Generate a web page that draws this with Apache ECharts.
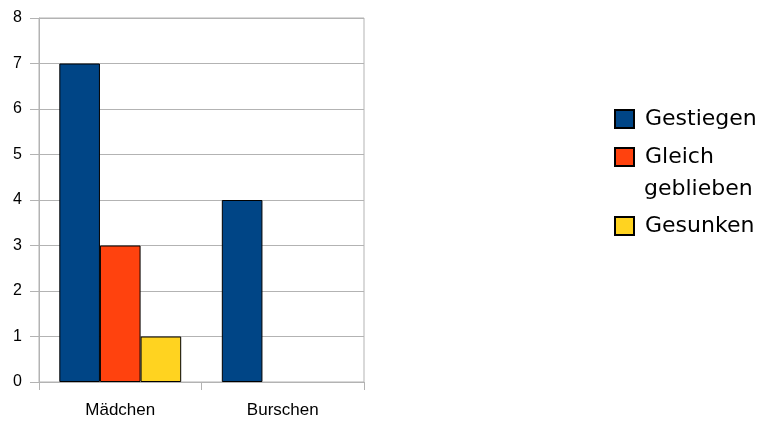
<!DOCTYPE html>
<html>
<head>
<meta charset="utf-8">
<script src="https://cdn.jsdelivr.net/npm/echarts@6/dist/echarts.min.js"></script>
<style>
  html, body { margin: 0; padding: 0; background: #fff; }
  #chart { width: 765px; height: 421px; }
</style>
</head>
<body>
<div id="chart"></div>
<script>
// daten
const categories = ['Mädchen', 'Burschen'];
const seriesNames = ['Gestiegen', 'Gleich geblieben', 'Gesunken'];
const gestiegen = [7, 4];
const gleichGeblieben = [3, 0];
const gesunken = [1, 0];
const yTicks = [0, 1, 2, 3, 4, 5, 6, 7, 8];

const colors = ['#004586', '#ff420e', '#ffd320'];
const gridColor = '#b3b3b3';
const axisFont = '"Liberation Sans", Arial, sans-serif';
const legendFont = '"DejaVu Sans", sans-serif';

// 0 heißt: kein balken im bild
function toBars(values) {
    return values.map(v => (v === 0 ? '-' : v));
}

var chart = echarts.init(document.getElementById('chart'), null, { renderer: 'canvas' });

var legendText = {
    fontFamily: legendFont,
    fontSize: 22,
    lineHeight: 22,
    color: '#000',
    padding: [0, 0, 0, 6]
};

var option = {
    animation: false,
    backgroundColor: '#fff',
    grid: {
        left: 39,
        right: 401,
        top: 18,
        bottom: 39,
        show: true,
        borderColor: gridColor,
        borderWidth: 1
    },
    // zwei legenden, weil "Gleich geblieben" umbricht
    legend: [{
        orient: 'vertical',
        left: 614,
        top: 108,
        padding: 0,
        itemWidth: 19,
        itemHeight: 18,
        itemGap: 16,
        icon: 'rect',
        data: [seriesNames[0], seriesNames[1]],
        formatter: function (name) {
            return name === 'Gleich geblieben' ? 'Gleich' : name;
        },
        textStyle: legendText
    }, {
        orient: 'vertical',
        left: 614,
        top: 215,
        padding: 0,
        itemWidth: 19,
        itemHeight: 18,
        icon: 'rect',
        data: [seriesNames[2]],
        textStyle: legendText
    }],
    graphic: [{
        type: 'text',
        left: 644,
        top: 178,
        style: {
            text: 'geblieben',
            font: '22px ' + legendFont,
            fill: '#000'
        }
    }],
    xAxis: {
        type: 'category',
        data: categories,
        axisLine: { lineStyle: { color: gridColor } },
        axisTick: { show: true, length: 8, lineStyle: { color: gridColor } },
        axisLabel: {
            color: '#000',
            fontFamily: axisFont,
            fontSize: 17,
            margin: 20
        },
        splitLine: { show: false }
    },
    yAxis: {
        type: 'value',
        min: yTicks[0],
        max: yTicks[yTicks.length - 1],
        interval: 1,
        axisLine: { show: true, lineStyle: { color: gridColor } },
        axisTick: { show: true, length: 9, lineStyle: { color: gridColor } },
        axisLabel: {
            color: '#000',
            fontFamily: axisFont,
            fontSize: 16,
            margin: 17,
            padding: [3, 0, 0, 0]
        },
        splitLine: { lineStyle: { color: gridColor, width: 1 } }
    },
    series: [
        { name: seriesNames[0], data: toBars(gestiegen) },
        { name: seriesNames[1], data: toBars(gleichGeblieben) },
        { name: seriesNames[2], data: toBars(gesunken) }
    ].map((s, i) => ({
        name: s.name,
        type: 'bar',
        data: s.data,
        barGap: '0%',
        barCategoryGap: '25%',
        itemStyle: {
            color: colors[i],
            borderColor: '#000',
            borderWidth: 1
        }
    }))
};

chart.setOption(option);
</script>
</body>
</html>
